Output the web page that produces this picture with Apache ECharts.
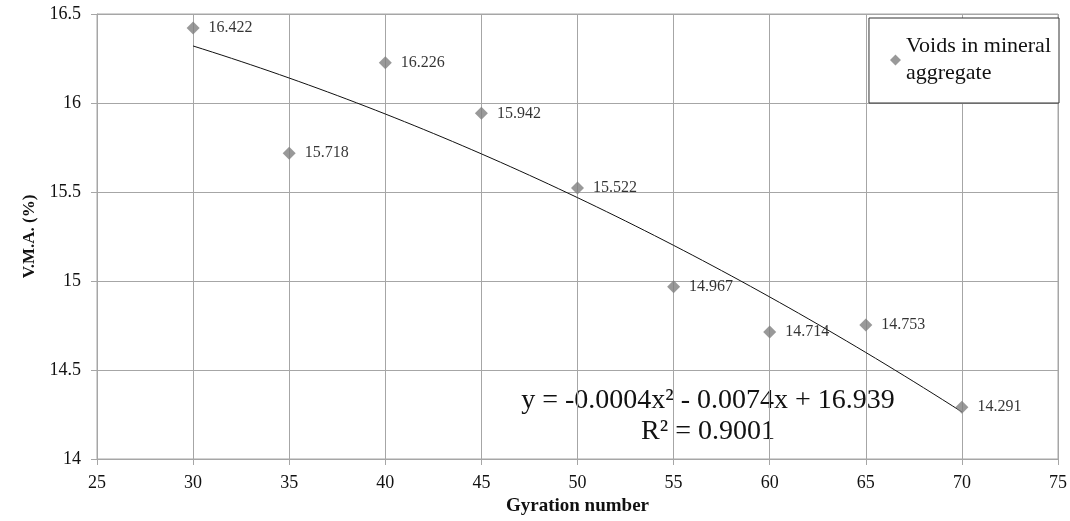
<!DOCTYPE html>
<html>
<head>
<meta charset="utf-8">
<script src="https://cdn.jsdelivr.net/npm/echarts@6/dist/echarts.min.js"></script>
<style>
  html, body { margin: 0; padding: 0; background: #fff; }
  #chart { width: 1070px; height: 521px; }
</style>
</head>
<body>
<div id="chart"></div>
<script>
// Gyration numbers and measured voids in mineral aggregate (%)
const gyrations = [30, 35, 40, 45, 50, 55, 60, 65, 70];
const vma = [16.422, 15.718, 16.226, 15.942, 15.522, 14.967, 14.714, 14.753, 14.291];
const equationText = 'y = -0.0004x\u00B2 - 0.0074x + 16.939';
const r2Text = 'R\u00B2 = 0.9001';
const seriesName = 'Voids in mineral\naggregate';

// Second-order polynomial least-squares trendline through the measured points
function quadFit(xs, ys) {
  let s0 = xs.length, s1 = 0, s2 = 0, s3 = 0, s4 = 0, t0 = 0, t1 = 0, t2 = 0;
  xs.forEach((x, i) => {
    const y = ys[i];
    s1 += x; s2 += x * x; s3 += x * x * x; s4 += x * x * x * x;
    t0 += y; t1 += x * y; t2 += x * x * y;
  });
  const det = (m) => m[0][0] * (m[1][1] * m[2][2] - m[1][2] * m[2][1])
    - m[0][1] * (m[1][0] * m[2][2] - m[1][2] * m[2][0])
    + m[0][2] * (m[1][0] * m[2][1] - m[1][1] * m[2][0]);
  const A = [[s0, s1, s2], [s1, s2, s3], [s2, s3, s4]];
  const B = [t0, t1, t2];
  const D = det(A);
  return [0, 1, 2].map(k => {
    const M = A.map((row, r) => row.map((v, c) => (c === k ? B[r] : v)));
    return det(M) / D;
  }); // [c0, c1, c2]
}
const coef = quadFit(gyrations, vma);
const trend = [];
for (let x = gyrations[0]; x <= gyrations[gyrations.length - 1]; x += 0.5) {
  trend.push([x, coef[0] + coef[1] * x + coef[2] * x * x]);
}

const serif = '"Liberation Serif", "Times New Roman", serif';
const gridColor = '#a6a6a6';

const chart = echarts.init(document.getElementById('chart'));
chart.setOption({
  animation: false,
  backgroundColor: '#ffffff',
  textStyle: { fontFamily: serif },
  grid: { left: 97, right: 12, top: 14, bottom: 62, show: true, borderColor: gridColor, borderWidth: 1 },
  legend: {
    show: true,
    right: 11,
    top: 18,
    orient: 'vertical',
    data: [{ name: seriesName, icon: 'diamond' }],
    itemWidth: 11,
    itemHeight: 11,
    itemGap: 0,
    padding: [15, 8, 16, 21],
    borderColor: '#333',
    borderWidth: 1,
    backgroundColor: '#fff',
    textStyle: { fontFamily: serif, fontSize: 22, color: '#111', lineHeight: 27 }
  },
  xAxis: {
    type: 'value',
    min: 25, max: 75, interval: 5,
    name: 'Gyration number',
    nameLocation: 'middle',
    nameGap: 38,
    nameTextStyle: { fontFamily: serif, fontSize: 19, fontWeight: 'bold', color: '#111' },
    axisLine: { show: true, lineStyle: { color: gridColor } },
    axisTick: { show: true, length: 6, lineStyle: { color: gridColor } },
    axisLabel: { fontFamily: serif, fontSize: 18, color: '#111', margin: 15 },
    splitLine: { show: true, lineStyle: { color: gridColor } }
  },
  yAxis: {
    type: 'value',
    min: 14, max: 16.5, interval: 0.5,
    name: 'V.M.A. (%)',
    nameLocation: 'middle',
    nameGap: 52,
    nameRotate: 90,
    nameTextStyle: { fontFamily: serif, fontSize: 17, fontWeight: 'bold', color: '#111' },
    axisLine: { show: true, lineStyle: { color: gridColor } },
    axisTick: { show: true, length: 6, lineStyle: { color: gridColor } },
    axisLabel: { fontFamily: serif, fontSize: 18, color: '#111', margin: 16 },
    splitLine: { show: true, lineStyle: { color: gridColor } }
  },
  series: [
    {
      name: 'trend',
      type: 'line',
      data: trend,
      showSymbol: false,
      symbol: 'none',
      silent: true,
      lineStyle: { color: '#111', width: 1 },
      z: 2
    },
    {
      name: seriesName,
      type: 'scatter',
      data: gyrations.map((x, i) => [x, vma[i]]),
      symbol: 'diamond',
      symbolSize: 13,
      itemStyle: { color: '#7f7f7f' },
      label: {
        show: true,
        position: 'right',
        distance: 9,
        formatter: (p) => p.value[1].toFixed(3),
        fontFamily: serif,
        fontSize: 16,
        color: '#000'
      },
      z: 3
    }
  ],
  graphic: [
    {
      type: 'text',
      x: 708,
      y: 416,
      style: {
        text: equationText + '\n' + r2Text,
        fontFamily: serif,
        fontSize: 28,
        lineHeight: 31,
        align: 'center',
        verticalAlign: 'middle',
        fill: '#111'
      }
    }
  ]
});
</script>
</body>
</html>
